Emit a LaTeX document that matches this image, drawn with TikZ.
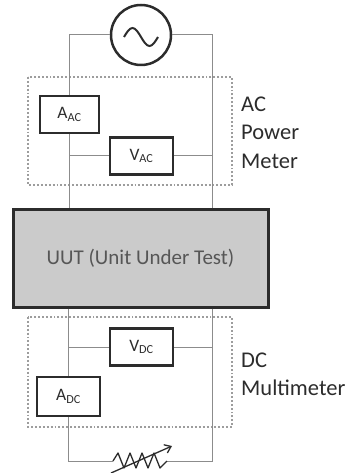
\documentclass[tikz,border=0pt]{standalone}
\usepackage{fontspec}
\setmainfont{Carlito}
\usetikzlibrary{positioning,arrows.meta,calc}
\definecolor{wire}{HTML}{8c8c8c}
\definecolor{frame}{HTML}{2c2c2c}
\definecolor{uutfill}{HTML}{cbcbcb}

\begin{document}
\begin{tikzpicture}[x=1pt,y=-1pt,
    meter/.style={draw=frame,line width=2.8pt,minimum width=60pt,minimum height=37pt,inner sep=0pt,text=frame,font=\fontsize{17.5}{17.5}\selectfont},
    group/.style={draw=wire!85,dotted,line width=1.9pt},
    wire/.style={draw=wire,line width=1pt},
    label/.style={anchor=base west,inner sep=0pt,text=frame,font=\fontsize{22.5}{22.5}\selectfont}]
    \useasboundingbox (0,0) rectangle (351,473);
    % source and right-hand rail
    \node[circle,draw=frame,line width=2.5pt,minimum size=60pt,inner sep=0pt] (src) at (141,35) {};
    \draw[frame,line width=2pt] (src.center) ++(-17,2) sin ++(8.5,-9) cos ++(8.5,9) sin ++(8.5,9) cos ++(8.5,-9);
    \coordinate (rx) at (212,0);
    % meters
    \node[meter,minimum width=59pt] (aac) at (69.5,114.5) {A\textsubscript{AC}};
    \node[meter,minimum width=63pt] (vac) at (141.5,156) {V\textsubscript{AC}};
    \node[draw=frame,line width=3pt,fill=uutfill,minimum width=255pt,minimum height=98pt,text=frame!80,font=\fontsize{21}{21}\selectfont] (uut) at (140.5,258) {UUT (Unit Under Test)};
    \node[meter,minimum width=63pt] (vdc) at (141.5,347) {V\textsubscript{DC}};
    \node[meter,minimum width=63pt,minimum height=39pt] (adc) at (68.5,396.5) {A\textsubscript{DC}};
    % dotted groups
    \draw[group] (28,77) rectangle (232,185);
    \draw[group] (28,317) rectangle (232,427);
    \node[label] (aclbl) at (241,112) {AC};
    \node[label] (pwrlbl) at (241,140) {Power};
    \node[label] (mtrlbl) at (241,168) {Meter};
    \node[label] (dclbl) at (241,367) {DC};
    \node[label] (mmlbl) at (241,395) {Multimeter};
    % wiring, top half
    \draw[wire] (src.west) -| (aac.north);
    \draw[wire] (src.east) -| (rx |- uut.north);
    \draw[wire] (aac.south) -- (aac.south |- uut.north);
    \draw[wire] (aac.south |- vac) -- (vac.west);
    \draw[wire] (vac.east) -- (rx |- vac);
    % wiring, bottom half
    \coordinate (reslft) at (113,461);
    \coordinate (resrgt) at (167,461);
    \draw[wire] (adc.north |- uut.south) -- (adc.north);
    \draw[wire] (adc.north |- vdc) -- (vdc.west);
    \draw[wire] (vdc.east) -- (rx |- vdc);
    \draw[wire] (adc.south) |- (reslft);
    \draw[wire] (rx |- uut.south) |- (resrgt);
    % variable load
    \draw[frame,line width=1.3pt,line join=round] (reslft) -- ++(5,-8) -- ++(6,15) -- ++(6,-15) -- ++(6,15) -- ++(6,-15) -- ++(6,15) -- ++(6,-15) -- ++(6,15) -- (resrgt);
    \draw[frame,line width=1.3pt,-{Straight Barb[length=6pt,width=9pt]}] (111,473) -- (172,446);
\end{tikzpicture}
\end{document}
